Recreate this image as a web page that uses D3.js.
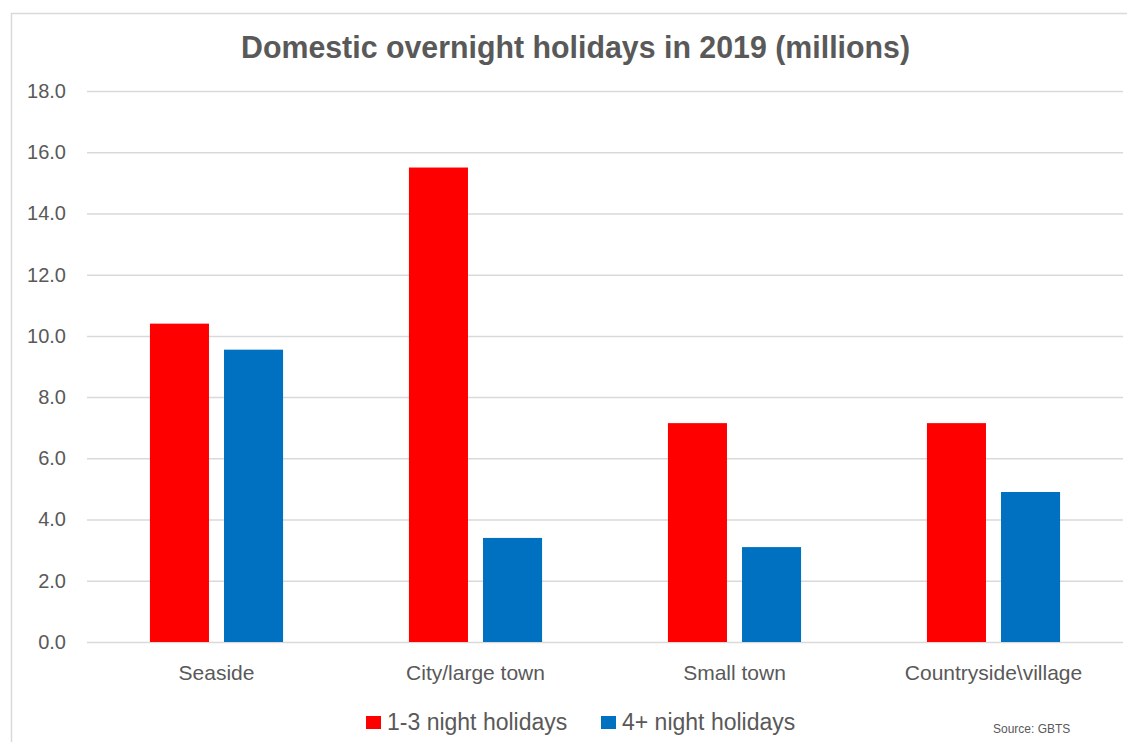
<!DOCTYPE html>
<html>
<head>
<meta charset="utf-8">
<script src="https://cdn.jsdelivr.net/npm/d3@7"></script>
<style>
  html, body { margin: 0; padding: 0; background: #fff; }
  svg { display: block; font-family: "Liberation Sans", Arial, sans-serif; }
</style>
</head>
<body>
<svg id="chart" width="1127" height="742"></svg>
<script>
// Domestic overnight holidays in 2019 by destination type (millions)
const categories = ["Seaside", "City/large town", "Small town", "Countryside\\village"];
const seriesNames = ["1-3 night holidays", "4+ night holidays"];
const shortStays = [10.4, 15.5, 7.15, 7.15];
const longStays = [9.55, 3.4, 3.1, 4.9];
const seriesColors = ["#ff0000", "#0070c0"];
const yTicks = [0, 2, 4, 6, 8, 10, 12, 14, 16, 18];

const rows = categories.map((c, i) => ({ category: c, values: [shortStays[i], longStays[i]] }));

const svg = d3.select("#chart");
const W = 1127, H = 742;
const plot = { left: 87, right: 1123, top: 91, bottom: 642 };
const textColor = "#595959";
const gridColor = "#d9d9d9";

// chart frame
svg.append("rect")
  .attr("x", 11.5).attr("y", 13.5)
  .attr("width", W).attr("height", H)
  .attr("fill", "#fff").attr("stroke", gridColor).attr("stroke-width", 1.5);

const y = d3.scaleLinear().domain([0, 18]).range([plot.bottom, plot.top]);
const x0 = d3.scaleBand().domain(categories).range([plot.left, plot.right]).padding(0);
const groupWidth = x0.bandwidth() * 0.514;
const x1 = d3.scaleBand().domain(d3.range(seriesNames.length))
  .range([0, groupWidth]).paddingInner(0.203).paddingOuter(0);

// title
svg.append("text")
  .attr("x", 575.5).attr("y", 58)
  .attr("text-anchor", "middle")
  .attr("font-size", 32).attr("font-weight", "bold")
  .attr("textLength", 669).attr("lengthAdjust", "spacingAndGlyphs")
  .attr("fill", textColor)
  .text("Domestic overnight holidays in 2019 (millions)");

// gridlines and value axis
const yAxis = d3.axisLeft(y).tickValues(yTicks).tickFormat(d3.format(".1f"))
  .tickSize(-(plot.right - plot.left)).tickPadding(21);
const yg = svg.append("g").attr("transform", `translate(${plot.left},0)`).call(yAxis);
yg.select(".domain").remove();
yg.selectAll(".tick line").attr("stroke", gridColor).attr("stroke-width", 1.5);
yg.selectAll(".tick text")
  .attr("fill", textColor).attr("font-size", 20)
  .attr("font-family", "'Liberation Sans', Arial, sans-serif");

// bars
const groups = svg.append("g").selectAll("g").data(rows).join("g")
  .attr("transform", d => `translate(${x0(d.category) + (x0.bandwidth() - groupWidth) / 2},0)`);
groups.selectAll("rect").data(d => d.values).join("rect")
  .attr("x", (d, i) => x1(i))
  .attr("width", x1.bandwidth())
  .attr("y", d => y(d))
  .attr("height", d => y(0) - y(d))
  .attr("fill", (d, i) => seriesColors[i]);

// category axis
const xAxis = d3.axisBottom(x0).tickSize(0).tickPadding(23);
const xg = svg.append("g").attr("transform", `translate(0,${plot.bottom})`).call(xAxis);
xg.select(".domain").remove();
xg.selectAll(".tick text")
  .attr("fill", textColor).attr("font-size", 21)
  .attr("font-family", "'Liberation Sans', Arial, sans-serif");

// legend
const legendItems = [{ x: 366, label: seriesNames[0], color: seriesColors[0] },
                     { x: 601, label: seriesNames[1], color: seriesColors[1] }];
const lg = svg.append("g").selectAll("g").data(legendItems).join("g")
  .attr("transform", d => `translate(${d.x},0)`);
lg.append("rect").attr("x", 0).attr("y", 716).attr("width", 15).attr("height", 13)
  .attr("fill", d => d.color);
lg.append("text").attr("x", 21).attr("y", 730)
  .attr("font-size", 23).attr("fill", textColor)
  .text(d => d.label);

// source note
svg.append("text")
  .attr("x", 993).attr("y", 733)
  .attr("font-size", 12).attr("fill", textColor)
  .text("Source: GBTS");
</script>
</body>
</html>
